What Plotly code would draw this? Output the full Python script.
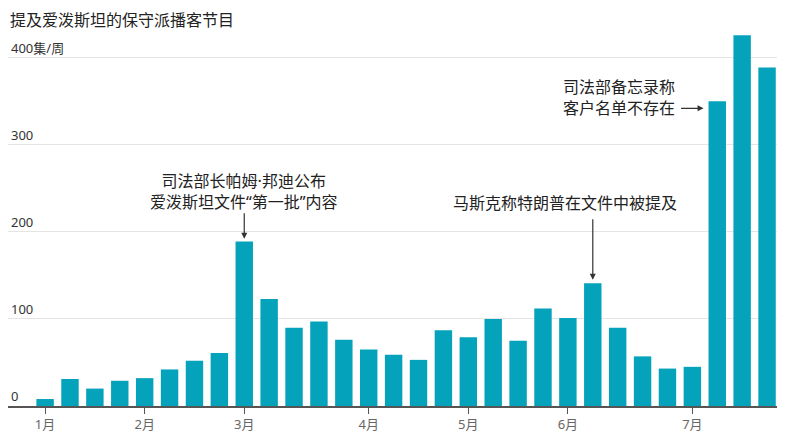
import plotly.graph_objects as go

FONT = "Noto Sans, Noto Sans CJK SC, sans-serif"

# weekly episode counts, Jan-Jul
weeks = list(range(30))
episodes = [8, 31, 20, 29, 32, 42, 52, 61, 189, 123,
            90, 97, 76, 65, 59, 53, 87, 79, 100, 75,
            112, 101, 141, 90, 57, 43, 45, 350, 426, 389]

month_pos = [0, 4, 8, 13, 17, 21, 26]
month_labels = ["1月", "2月", "3月", "4月", "5月", "6月", "7月"]

y_ticks = [0, 100, 200, 300, 400]
y_labels = ["0", "100", "200", "300", "400集/周"]

fig = go.Figure()

fig.add_trace(go.Bar(
    x=weeks,
    y=episodes,
    marker=dict(color="#05a3bb", line=dict(width=0)),
    hoverinfo="y",
))

arrow = dict(showarrow=True, arrowhead=2, arrowsize=1, arrowwidth=1.2,
             arrowcolor="#333333", axref="pixel", ayref="pixel", text="")
note_font = dict(family=FONT, size=16, color="#222222")

annotations = [
    # 3月: first batch of files
    dict(x=8, y=192, ax=0, ay=-27, **arrow),
    dict(x=8, y=246, text="司法部长帕姆·邦迪公布<br>爱泼斯坦文件“第一批”内容",
         showarrow=False, xanchor="center", yanchor="middle", align="center",
         font=note_font),
    # 6月: Musk claim
    dict(x=22, y=145, ax=0, ay=-62, **arrow),
    dict(x=20.9, y=233, text="马斯克称特朗普在文件中被提及",
         showarrow=False, xanchor="center", yanchor="middle", font=note_font),
    # 7月: DOJ memo
    dict(x=26.45, y=342, ax=-24, ay=0, **arrow),
    dict(x=25.4, y=354, text="司法部备忘录称<br>客户名单不存在",
         showarrow=False, xanchor="right", yanchor="middle", align="left",
         font=note_font),
    # chart title
    dict(x=0, xref="paper", y=1, yref="paper", yshift=16,
         text="提及爱泼斯坦的保守派播客节目", showarrow=False,
         xanchor="left", yanchor="top",
         font=dict(family=FONT, size=16, color="#222222")),
]

# y tick labels sit above the gridlines at the left edge
for v, lab in zip(y_ticks, y_labels):
    annotations.append(dict(
        x=0, xref="paper", y=v, yref="y", text=lab, showarrow=False,
        xanchor="left", yanchor="bottom", xshift=1, yshift=-1,
        font=dict(family=FONT, size=13, color="#333333"),
    ))

fig.update_layout(
    width=794,
    height=434,
    margin=dict(l=0, r=25, t=15, b=36, autoexpand=False),
    paper_bgcolor="white",
    plot_bgcolor="white",
    showlegend=False,
    bargap=0.3,
    font=dict(family=FONT, size=13, color="#333333"),
    xaxis=dict(
        range=[-1.49, 29.4],
        tickmode="array",
        tickvals=month_pos,
        ticktext=month_labels,
        ticks="outside",
        ticklen=6,
        tickwidth=1.2,
        tickcolor="#555555",
        tickfont=dict(size=13, color="#666666"),
        showline=True,
        linecolor="#555555",
        linewidth=1.5,
        showgrid=False,
        zeroline=False,
        automargin=False,
        fixedrange=True,
    ),
    yaxis=dict(
        range=[0, 440],
        tickmode="array",
        tickvals=y_ticks,
        showticklabels=False,
        ticks="",
        showgrid=True,
        gridcolor="#e4e4e4",
        gridwidth=1,
        zeroline=False,
        showline=False,
        automargin=False,
        fixedrange=True,
    ),
    annotations=annotations,
)

fig.write_html("out.html")
